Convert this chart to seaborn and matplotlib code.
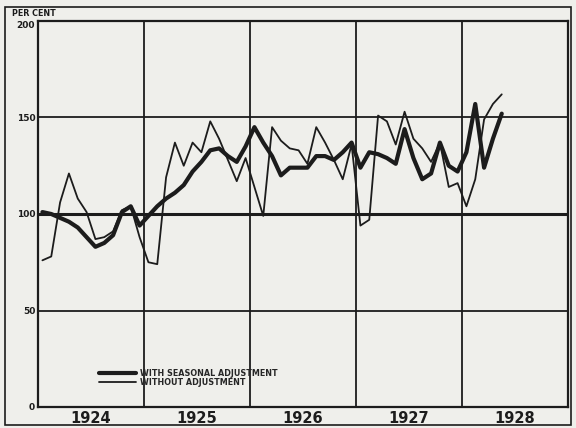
import numpy as np
import pandas as pd
import seaborn as sns
import matplotlib.pyplot as plt
from matplotlib.patches import Rectangle

sns.set_style("white")
plt.rcParams['font.family'] = ['DejaVu Sans']

# monthly index numbers, Jan 1924 - May 1928
years = [1924, 1925, 1926, 1927, 1928]
adjusted = [101, 100, 98, 96, 93, 88, 83, 85, 89, 101, 104, 94,
            99, 104, 108, 111, 115, 122, 127, 133, 134, 130, 127, 135,
            145, 137, 130, 120, 124, 124, 124, 130, 130, 128, 132, 137,
            124, 132, 131, 129, 126, 144, 129, 118, 121, 137, 125, 122,
            132, 157, 124, 139, 152]
unadjusted = [76, 78, 106, 121, 108, 101, 87, 88, 91, 102, 104, 88,
              75, 74, 119, 137, 125, 137, 132, 148, 139, 128, 117, 129,
              114, 99, 145, 138, 134, 133, 126, 145, 137, 128, 118, 136,
              94, 97, 151, 148, 136, 153, 139, 134, 127, 137, 114, 116,
              104, 118, 149, 157, 162]
labels = ['WITH SEASONAL ADJUSTMENT', 'WITHOUT ADJUSTMENT']

month = np.arange(len(adjusted))
t = years[0] + (month + 0.5) / 12
df = pd.DataFrame({'t': t, 'adjusted': adjusted, 'unadjusted': unadjusted})

ink = '#1c1c1c'
paper = '#efefeb'

fig = plt.figure(figsize=(5.76, 4.28), dpi=100)
fig.patch.set_facecolor(paper)
ax = fig.add_axes([38 / 576, 1 - 407 / 428, 530 / 576, 386 / 428])
ax.set_facecolor(paper)

# grid
for v in [50, 150]:
    ax.axhline(v, color=ink, lw=1.3, zorder=1)
ax.axhline(100, color=ink, lw=2.2, zorder=1)
for y in years[1:]:
    ax.axvline(y, color=ink, lw=1.3, zorder=1)

sns.lineplot(data=df, x='t', y='unadjusted', color=ink, lw=1.3,
             label=labels[1], ax=ax, zorder=3)
sns.lineplot(data=df, x='t', y='adjusted', color=ink, lw=3.0,
             label=labels[0], ax=ax, zorder=4)

ax.set_xlim(1924, 1929)
ax.set_ylim(0, 200)
ax.set_xlabel('')
ax.set_ylabel('')
ax.set_yticks([0, 50, 100, 150, 200])
ax.set_yticklabels(['0', '50', '100', '150', '200'], fontsize=6.5,
                   fontweight='bold', color=ink)
ax.get_yticklabels()[-1].set_va('top')
ax.set_xticks([y + 0.5 for y in years])
ax.set_xticklabels([str(y) for y in years], fontsize=10.5,
                   fontweight='bold', color=ink)
ax.tick_params(length=0, pad=2)
ax.tick_params(axis='x', pad=3)
for s in ax.spines.values():
    s.set_color(ink)
    s.set_linewidth(1.6)

h, l = ax.get_legend_handles_labels()
ax.legend(h[::-1], l[::-1], loc='upper left', bbox_to_anchor=(0.107, 0.11),
          frameon=False, handlelength=4.6, labelspacing=0.05,
          handletextpad=0.5, borderpad=0, prop={'weight': 'bold', 'size': 5.8})

fig.text(12 / 576, 1 - 13 / 428, 'PER CENT', fontsize=5.8, fontweight='bold',
         color=ink, va='center')
fig.add_artist(Rectangle((5 / 576, 3 / 428), 566 / 576, 418 / 428,
                         transform=fig.transFigure, fill=False,
                         edgecolor=ink, lw=1.2))

fig.savefig('out.png', dpi=100, facecolor=paper)
